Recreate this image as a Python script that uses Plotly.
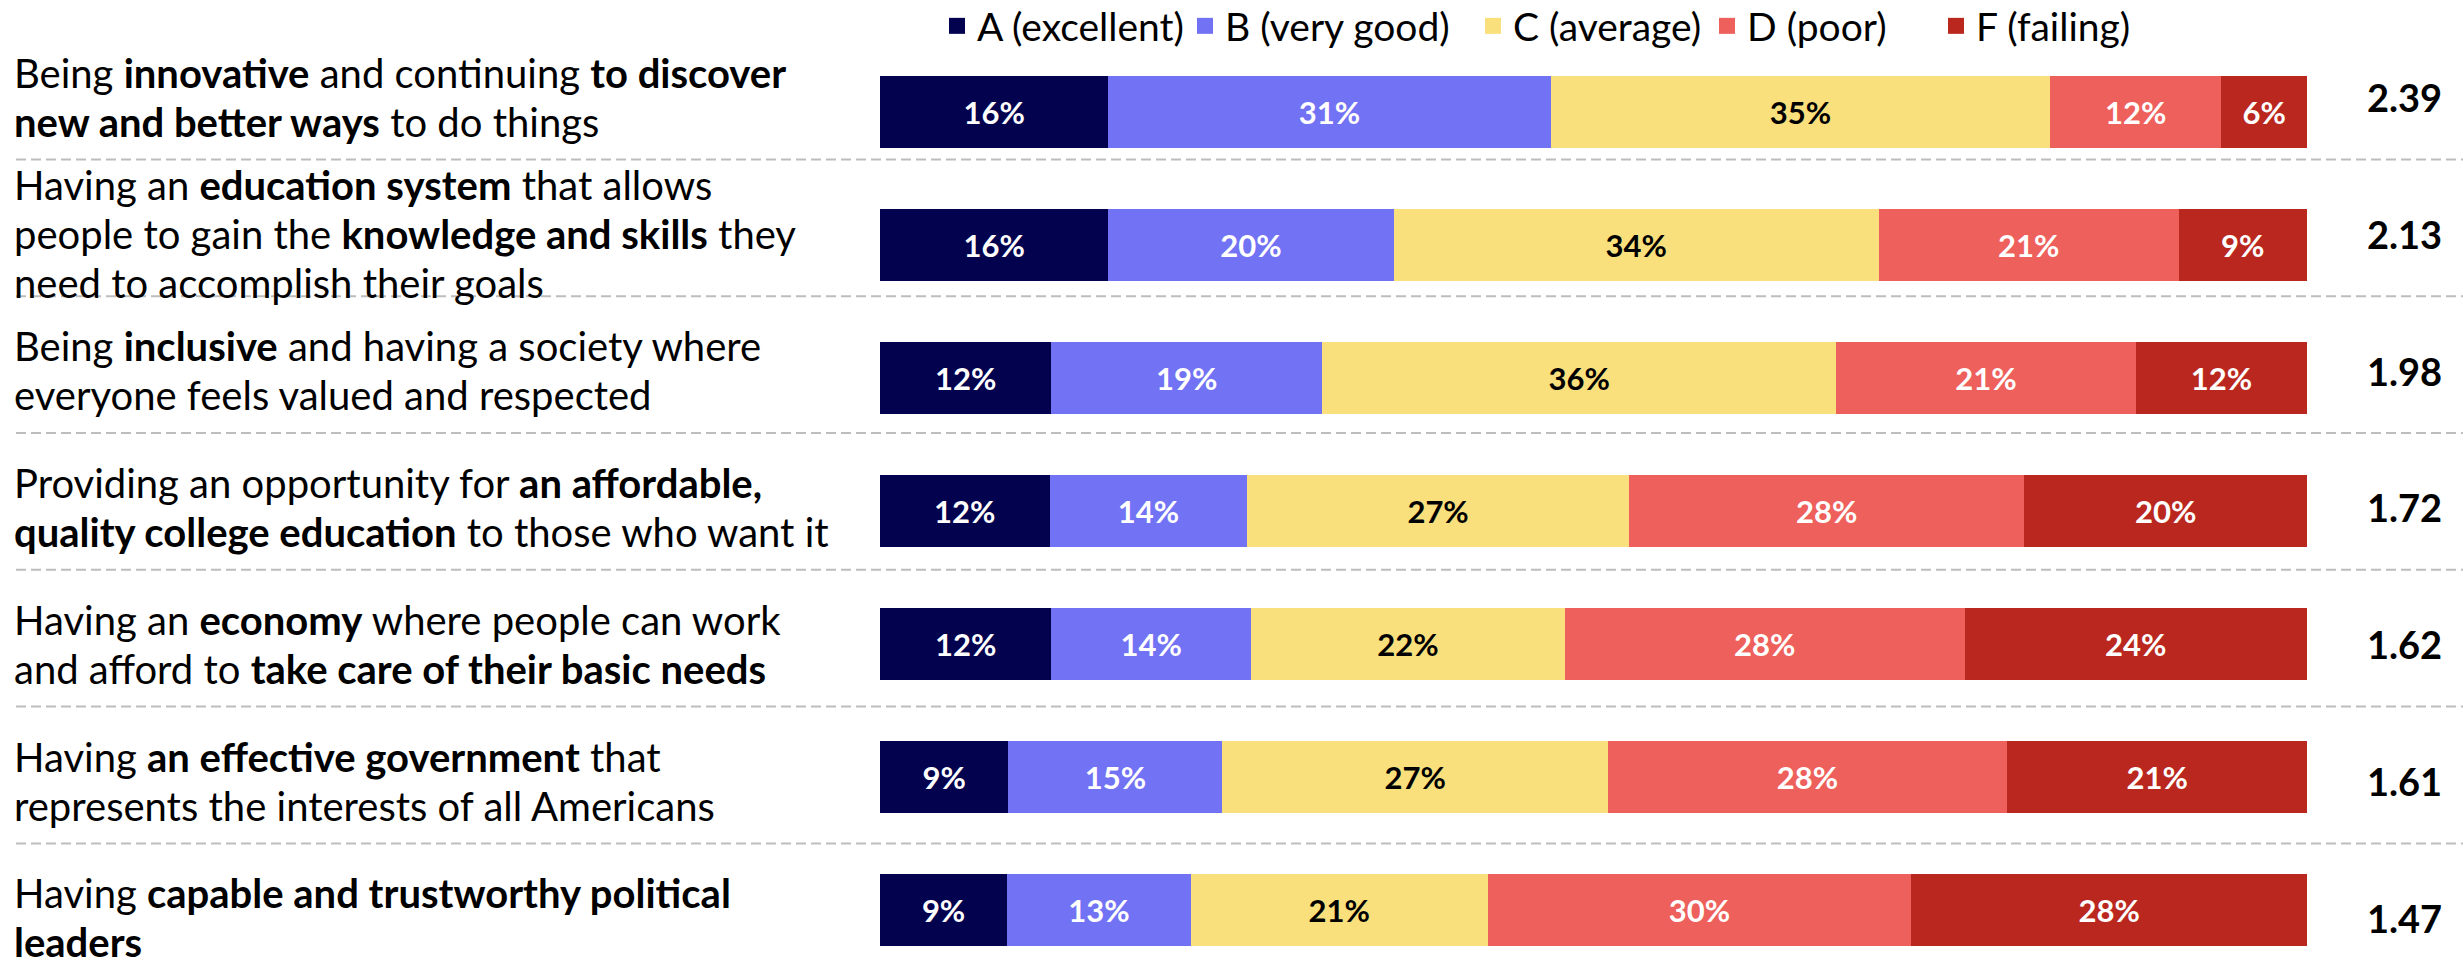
import plotly.graph_objects as go

# ---------------- data ----------------
categories = [
    "Being <b>innovative</b> and continuing <b>to discover</b><br><b>new and better ways</b> to do things",
    "Having an <b>education system</b> that allows<br>people to gain the <b>knowledge and skills</b> they<br>need to accomplish their goals",
    "Being <b>inclusive</b> and having a society where<br>everyone feels valued and respected",
    "Providing an opportunity for <b>an affordable,</b><br><b>quality college education</b> to those who want it",
    "Having an <b>economy</b> where people can work<br>and afford to <b>take care of their basic needs</b>",
    "Having <b>an effective government</b> that<br>represents the interests of all Americans",
    "Having <b>capable and trustworthy political</b><br><b>leaders</b>",
]
grades = ["A (excellent)", "B (very good)", "C (average)", "D (poor)", "F (failing)"]
grade_A = [16, 16, 12, 12, 12, 9, 9]
grade_B = [31, 20, 19, 14, 14, 15, 13]
grade_C = [35, 34, 36, 27, 22, 27, 21]
grade_D = [12, 21, 21, 28, 28, 28, 30]
grade_F = [6, 9, 12, 20, 24, 21, 28]
scores = [2.39, 2.13, 1.98, 1.72, 1.62, 1.61, 1.47]

# ---------------- style ----------------
colors = ["#03024E", "#7272F4", "#F9E07C", "#EE605B", "#BA271E"]
text_colors = ["white", "white", "black", "white", "white"]
FONT = "Lato, 'Open Sans', sans-serif"

W, H = 2463, 962
LABEL_SIZE = 40
LINE_H = 49
legend_centers_px = [968, 1216, 1504, 1738, 1967]   # legend square centres (px)

series = [grade_A, grade_B, grade_C, grade_D, grade_F]
rows = list(range(len(categories)))
totals = [sum(s[i] for s in series) for i in rows]

fig = go.Figure()
for k, (name, vals, col, tcol) in enumerate(zip(grades, series, colors, text_colors)):
    fig.add_trace(go.Bar(
        y=rows,
        x=[v / t * 100 for v, t in zip(vals, totals)],
        orientation="h",
        name=name,
        legendgroup=name,
        showlegend=False,
        marker=dict(color=col, line=dict(width=0)),
        width=0.54,
        text=[f"{v}%" for v in vals],
        texttemplate="<b>%{text}</b>",
        textposition="inside",
        insidetextanchor="middle",
        textangle=0,
        textfont=dict(family=FONT, size=31, color=tcol),
        hoverinfo="skip",
    ))
    # legend entry (square swatch) for this grade
    fig.add_trace(go.Scatter(
        x=[None], y=[None], mode="markers", name=name, legendgroup=name,
        marker=dict(symbol="square", size=16, color=col),
        legend="legend" if k == 0 else f"legend{k + 1}",
        hoverinfo="skip",
    ))

# invisible helper trace so the label axis exists
fig.add_trace(go.Scatter(x=[None], y=[None], yaxis="y2", showlegend=False, hoverinfo="skip"))

# bar grid: row i centred at 112 + 133*i px ; label grid: 97 + 136.8*i px
bar_c0, bar_step = 112, 133
lab_c0, lab_step = 97, 136.8
sep_shift = 6 / lab_step

annotations = []
for i, lab in enumerate(categories):
    lines = lab.split("<br>")
    n = len(lines)
    for j, line in enumerate(lines):
        annotations.append(dict(
            text=line, xref="paper", x=12 / W, xanchor="left", align="left",
            yref="y2", y=i, yanchor="middle", yshift=-(j - (n - 1) / 2) * LINE_H,
            showarrow=False,
            font=dict(family=FONT, size=LABEL_SIZE, color="black"),
        ))
    annotations.append(dict(
        text=f"<b>{scores[i]:.2f}</b>", xref="paper", x=2404 / W, xanchor="center",
        yref="y2", y=i, yanchor="middle", showarrow=False,
        font=dict(family=FONT, size=38, color="black"),
    ))

shapes = []
for i in range(len(categories) - 1):
    yy = i + 0.5 - sep_shift
    shapes.append(dict(
        type="line", xref="paper", x0=16 / W, x1=1, yref="y2", y0=yy, y1=yy,
        line=dict(color="#BDBDBD", width=2, dash="10px,5px"),
    ))

legend_common = dict(orientation="h", xanchor="left", y=1 + 6 / H, yanchor="top",
                     font=dict(family=FONT, size=39, color="black"),
                     itemsizing="trace", bgcolor="rgba(0,0,0,0)", borderwidth=0)
legends = {}
for k, cx in enumerate(legend_centers_px):
    key = "legend" if k == 0 else f"legend{k + 1}"
    legends[key] = dict(legend_common, x=(cx - 31) / W)

fig.update_layout(
    width=W, height=H,
    margin=dict(l=0, r=0, t=0, b=0, autoexpand=False),
    paper_bgcolor="white", plot_bgcolor="white",
    barmode="stack",
    font=dict(family=FONT, color="black"),
    xaxis=dict(domain=[880 / W, 2307 / W], range=[0, 100], visible=False, fixedrange=True),
    yaxis=dict(domain=[0, 1], range=[(H - bar_c0) / bar_step, -bar_c0 / bar_step],
               visible=False, fixedrange=True),
    yaxis2=dict(domain=[0, 1], overlaying="y", range=[(H - lab_c0) / lab_step, -lab_c0 / lab_step],
                visible=False, fixedrange=True),
    showlegend=True,
    annotations=annotations,
    shapes=shapes,
    **legends,
)

fig.write_html("out.html", config={"displayModeBar": False},
               post_script="document.body.style.margin='0';")
